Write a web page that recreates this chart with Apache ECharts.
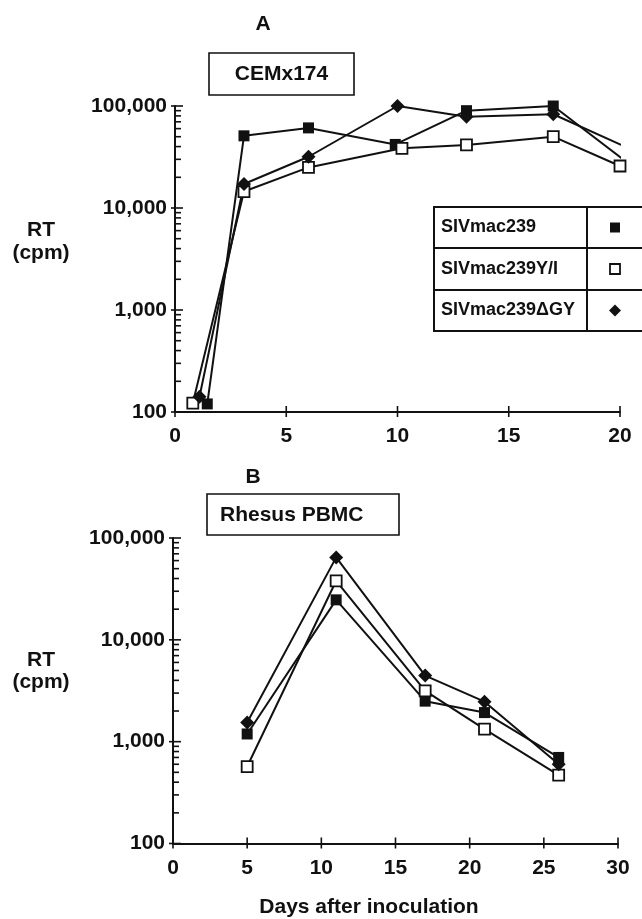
<!DOCTYPE html>
<html>
<head>
<meta charset="utf-8">
<script src="https://cdn.jsdelivr.net/npm/echarts@6/dist/echarts.min.js"></script>
<style>
html, body { margin: 0; padding: 0; background: #fff; }
#chart { width: 642px; height: 919px; }
</style>
</head>
<body>
<div id="chart"></div>
<script>
// panel A - CEMx174 (x offsets as drawn in the figure)
var daysA_wt = [1.45, 3.1, 6, 9.9, 13.1, 17, 20.1];
var rtA_wt = [120, 51000, 61000, 42000, 90000, 100000, 30500];
var daysA_yi = [0.8, 3.1, 6, 10.2, 13.1, 17, 20];
var rtA_yi = [122, 14500, 25000, 38500, 41500, 50000, 25800];
var daysA_dgy = [1.1, 3.1, 6, 10, 13.1, 17, 20.05];
var rtA_dgy = [141, 17200, 31800, 100000, 78500, 83000, 41500];

// panel B - Rhesus PBMC
var daysB = [5, 11, 17, 21, 26];
var rtB_wt = [1190, 24700, 2500, 1930, 700];
var rtB_yi = [570, 38000, 3150, 1330, 470];
var rtB_dgy = [1540, 64500, 4460, 2470, 600];

var seriesNames = ["SIVmac239", "SIVmac239Y/I", "SIVmac239\u0394GY"];
var xTicksA = [0, 5, 10, 15, 20];
var xTicksB = [0, 5, 10, 15, 20, 25, 30];

var FONT = "Liberation Sans";
var INK = "#111";

function pairs(xs, ys) {
	var out = [];
	for (var i = 0; i < xs.length; i++) out.push([xs[i], ys[i]]);
	return out;
}

// tick marks for the log axis: decades cross the axis, 2..9 sit inside
function yTickData() {
	var out = [];
	for (var e = 2; e <= 5; e++) {
		var base = Math.pow(10, e);
		out.push([0, base, 1]);
		if (e < 5) {
			for (var m = 2; m <= 9; m++) out.push([0, base * m, 0]);
		}
	}
	return out;
}
function xTickData(ticks) {
	var out = [];
	for (var i = 0; i < ticks.length; i++) out.push([ticks[i], 100, 2]);
	return out;
}

function tickItem(params, api) {
	var p = api.coord([api.value(0), api.value(1)]);
	var kind = api.value(2);
	var shape;
	if (kind === 2) shape = { x1: p[0], y1: p[1] - 6, x2: p[0], y2: p[1] + 5 };
	else if (kind === 1) shape = { x1: p[0] - 4, y1: p[1], x2: p[0] + 8, y2: p[1] };
	else shape = { x1: p[0], y1: p[1], x2: p[0] + 6, y2: p[1] };
	return { type: "line", shape: shape, style: { stroke: INK, lineWidth: 1.6 } };
}

function tickSeries(idx, data) {
	return {
		type: "custom", xAxisIndex: idx, yAxisIndex: idx, clip: false,
		renderItem: tickItem, data: data, silent: true, z: 3
	};
}

function lineSeries(idx, name, data, symbol, size, fill) {
	return {
		type: "line", name: name, xAxisIndex: idx, yAxisIndex: idx,
		data: data, symbol: symbol, symbolSize: size, showAllSymbol: true,
		lineStyle: { color: INK, width: 2 },
		itemStyle: { color: fill, borderColor: INK, borderWidth: fill === "#fff" ? 1.8 : 0 },
		z: 4
	};
}

function xAxisCfg(idx, max) {
	return {
		type: "value", gridIndex: idx, min: 0, max: max, interval: 5,
		splitLine: { show: false }, axisTick: { show: false },
		axisLine: { onZero: false, lineStyle: { color: INK, width: 2 } },
		axisLabel: { color: INK, fontFamily: FONT, fontWeight: "bold", fontSize: 21, margin: 14 }
	};
}
function yAxisCfg(idx) {
	return {
		type: "log", logBase: 10, gridIndex: idx, min: 100, max: 100000,
		splitLine: { show: false }, axisTick: { show: false },
		axisLine: { lineStyle: { color: INK, width: 2 } },
		axisLabel: {
			color: INK, fontFamily: FONT, fontWeight: "bold", fontSize: 21, margin: 8,
			formatter: function (v) { return Math.round(v).toLocaleString("en-US"); }
		}
	};
}

function txt(x, y, s, size, align) {
	return {
		type: "text", x: x, y: y, z: 10,
		style: { text: s, fill: INK, font: "bold " + size + "px '" + FONT + "'",
			align: align || "center", verticalAlign: "middle" }
	};
}
function box(x, y, w, h) {
	return { type: "rect", shape: { x: x, y: y, width: w, height: h }, z: 9,
		style: { fill: "#fff", stroke: INK, lineWidth: 1.6 } };
}
function hline(x1, x2, y) {
	return { type: "line", shape: { x1: x1, y1: y, x2: x2, y2: y }, z: 10, style: { stroke: INK, lineWidth: 2 } };
}

// legend table in panel A
var legendRows = [227.5, 269, 310.5];
var legendGraphics = [
	{ type: "rect", shape: { x: 434, y: 207, width: 220, height: 124 }, z: 9,
		style: { fill: "#fff", stroke: INK, lineWidth: 2 } },
	hline(434, 642, 248), hline(434, 642, 290),
	{ type: "line", shape: { x1: 587, y1: 207, x2: 587, y2: 331 }, z: 10, style: { stroke: INK, lineWidth: 2 } },
	txt(441, legendRows[0], seriesNames[0], 18, "left"),
	txt(441, legendRows[1], seriesNames[1], 18, "left"),
	txt(441, legendRows[2], seriesNames[2], 18, "left"),
	{ type: "rect", shape: { x: 610, y: legendRows[0] - 5, width: 10, height: 10 }, z: 11, style: { fill: INK } },
	{ type: "rect", shape: { x: 610, y: legendRows[1] - 5, width: 10, height: 10 }, z: 11,
		style: { fill: "#fff", stroke: INK, lineWidth: 1.8 } },
	{ type: "polygon", shape: { points: [[615, legendRows[2] - 6], [621, legendRows[2]], [615, legendRows[2] + 6], [609, legendRows[2]]] },
		z: 11, style: { fill: INK } }
];

var myChart = echarts.init(document.getElementById("chart"), null, { renderer: "canvas" });

var option = {
	backgroundColor: "#fff",
	animation: false,
	grid: [
		{ left: 175, right: 22, top: 106, height: 306 },
		{ left: 173, right: 24, top: 538, height: 305.5 }
	],
	xAxis: [xAxisCfg(0, 20), xAxisCfg(1, 30)],
	yAxis: [yAxisCfg(0), yAxisCfg(1)],
	series: [
		tickSeries(0, yTickData().concat(xTickData(xTicksA))),
		tickSeries(1, yTickData().concat(xTickData(xTicksB))),
		lineSeries(0, seriesNames[0], pairs(daysA_wt, rtA_wt), "rect", 11, INK),
		lineSeries(0, seriesNames[1], pairs(daysA_yi, rtA_yi), "rect", 11, "#fff"),
		lineSeries(0, seriesNames[2], pairs(daysA_dgy, rtA_dgy), "diamond", 14, INK),
		lineSeries(1, seriesNames[0], pairs(daysB, rtB_wt), "rect", 11, INK),
		lineSeries(1, seriesNames[1], pairs(daysB, rtB_yi), "rect", 11, "#fff"),
		lineSeries(1, seriesNames[2], pairs(daysB, rtB_dgy), "diamond", 14, INK)
	],
	graphic: [
		txt(263, 24, "A", 21),
		box(209, 53, 145, 42), txt(281.5, 74, "CEMx174", 21),
		txt(41, 230, "RT", 21), txt(41, 253, "(cpm)", 21),
		txt(253, 477, "B", 21),
		box(207, 494, 192, 41), txt(220, 515, "Rhesus PBMC", 21, "left"),
		txt(41, 660, "RT", 21), txt(41, 682, "(cpm)", 21),
		txt(369, 907, "Days after inoculation", 21)
	].concat(legendGraphics)
};
myChart.setOption(option);
</script>
</body>
</html>
